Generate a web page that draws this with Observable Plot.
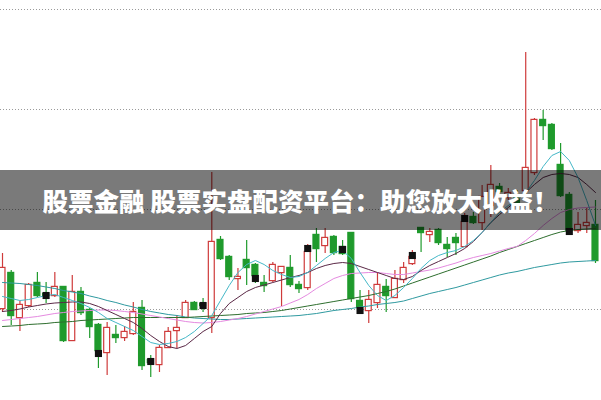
<!DOCTYPE html>
<html><head><meta charset="utf-8">
<script src="https://cdn.jsdelivr.net/npm/d3@7"></script>
<script src="https://cdn.jsdelivr.net/npm/@observablehq/plot@0.6"></script>
<style>
html,body{margin:0;padding:0;background:#fff;}
#wrap{position:relative;width:601px;height:400px;overflow:hidden;}
#banner{position:absolute;left:0;top:170px;width:601px;height:60px;background:rgba(0,0,0,0.52);color:#fff;font-weight:900;font-size:25.5px;font-family:"Noto Sans CJK SC","Noto Sans",sans-serif;text-align:center;line-height:60px;white-space:nowrap;}
</style></head><body>
<div id="wrap"><div id="chart"></div><div id="banner">股票金融 股票实盘配资平台：助您放大收益！</div></div>
<script>
const title = "股票金融 股票实盘配资平台：助您放大收益！";
const opens = [10.1,13.6,9.2,10.4,12.6,11.5,11.4,12.2,6.9,11.7, 9.9,8.4,5.7,7.4,7.2,7.6,10.1,4.9,4.5,6.2, 7.9,9.2,10.6,10.5,9.2,16.9,15.2,13.1,14.9,14.4, 12.6,12.9,13.7,14.1,12.4,12.2,17.4,16.4,17.2,16.2, 17.6,10.8,9.9,10.7,12.2,11.2,13.0,14.6,18.1,17.5, 17.9,16.4,17.1,16.3,19.2,18.7,20.4,22.2,21.2,21.2, 21.9,23.7,28.9,28.4,24.4,21.4,17.9,18.4,18.4];
const closes = [14.1,9.4,10.4,12.4,11.4,11.4,12.2,6.9,11.7,9.7, 8.3,5.9,8.1,7.2,7.7,9.7,4.4,4.7,6.1,7.7, 8.1,10.6,10.0,10.4,16.7,15.1,13.3,13.2,14.2,13.4, 12.4,14.4,14.2,12.5,12.1,15.7,16.1,17.1,15.7,15.6, 11.1,10.2,10.9,12.4,11.4,13.0,14.1,15.2,17.7,17.7, 16.7,16.1,16.7,18.7,18.7,21.2,22.4,21.8,21.6,20.7, 24.1,28.9,28.4,26.1,21.4,17.9,18.4,18.6,14.9];
const highs = [15.6,13.9,10.8,12.6,13.7,12.7,13.7,12.3,13.4,12.2, 10.1,8.6,8.7,8.4,8.3,10.7,10.9,5.4,6.4,8.2, 9.4,10.9,10.8,11.1,23.7,17.3,15.4,14.1,16.9,14.6, 13.4,14.7,14.3,15.4,12.8,16.5,18.1,18.1,17.4,16.9, 17.7,11.9,11.9,13.7,13.0,13.9,14.7,15.9,18.1,18.1, 18.1,17.2,17.6,19.6,19.7,22.4,24.4,22.6,22.1,21.9, 35.7,29.1,29.9,28.6,26.6,21.7,19.7,20.1,20.9];
const lows = [9.7,8.4,7.8,10.2,11.2,10.6,11.2,6.7,6.8,9.4, 7.1,4.1,3.4,6.6,6.8,7.4,3.9,3.2,3.7,6.1, 6.1,9.1,9.9,9.7,7.6,14.9,12.9,11.9,12.4,12.6, 11.7,12.7,10.3,12.2,11.6,11.9,14.7,15.6,15.4,15.4, 10.7,9.7,8.6,10.1,9.7,11.1,12.6,14.4,15.7,16.7, 16.4,15.2,15.4,16.3,18.5,17.9,19.2,21.4,20.9,20.4, 21.4,23.4,26.9,25.9,21.2,17.6,17.6,17.6,14.6];

const ma5 = [11.3,11.1,10.9,11.0,11.2,11.4,11.5,11.2,10.9,10.6, 10.2,9.7,9.1,8.7,8.3,7.9,7.3,6.7,6.5,6.6, 6.8,7.2,7.8,8.6,9.4,10.9,12.4,13.7,14.5,14.9, 14.5,13.9,13.5,13.2,13.3,13.7,14.4,15.1,15.7,15.9, 15.1,13.7,12.4,11.4,10.9,11.4,12.2,13.1,14.1,14.9, 15.4,15.7,15.9,16.3,16.9,17.7,18.7,19.7,20.4,20.9, 21.7,22.9,24.3,25.4,25.8,24.9,23.2,20.9,18.4];
const ma10 = [9.8,9.9,10.05,10.25,10.4,10.55,10.65,10.7,10.75,10.75, 10.6,10.3,9.9,9.5,9.1,8.7,8.1,7.4,6.8,6.3, 6.1,6.4,7.1,7.8,8.3,9.6,10.6,11.2,11.8,12.2, 12.45,12.7,12.95,13.2,13.4,13.7,14.1,14.4,14.6,14.7, 14.6,14.3,14.0,13.7,13.4,13.1,13.0,13.3,13.9,14.4, 14.8,15.2,15.6,16.1,16.8,17.7,18.7,19.5,20.2,20.9, 21.7,22.5,23.2,23.5,23.6,23.5,23.2,22.5,21.7];
const ma20 = [8.9,9.0,9.1,9.2,9.3,9.45,9.6,9.7,9.8,9.85, 9.9,9.95,9.95,9.9,9.8,9.7,9.55,9.4,9.25,9.1, 8.95,8.8,8.7,8.65,8.7,8.8,8.95,9.1,9.3,9.55, 9.8,10.05,10.3,10.65,11.0,11.5,12.1,12.6,13.1,13.4, 13.6,13.65,13.7,13.7,13.6,13.5,13.5,13.65,13.8,13.95, 14.15,14.4,14.65,14.95,15.2,15.4,15.6,15.85,16.1,16.3, 16.9,17.6,18.4,19.1,19.7,20.0,20.15,20.2,20.25];
const ma30 = [8.3,8.35,8.4,8.5,8.55,8.6,8.7,8.75,8.8,8.9, 8.95,9.0,9.05,9.1,9.15,9.2,9.2,9.2,9.2,9.2, 9.2,9.2,9.25,9.3,9.35,9.4,9.45,9.5,9.6,9.65, 9.7,9.8,9.9,10.05,10.2,10.35,10.5,10.65,10.8,10.95, 11.1,11.25,11.4,11.6,11.8,12.05,12.35,12.65,12.95,13.25, 13.55,13.85,14.15,14.45,14.75,15.05,15.35,15.7,16.0,16.3, 16.6,16.9,17.2,17.5,17.75,17.9,18.0,18.05,18.1];
const ma60 = [12.7,12.65,12.6,12.5,12.4,12.25,12.1,11.9,11.75,11.6, 11.35,11.15,10.9,10.7,10.45,10.25,10.0,9.8,9.65,9.5, 9.4,9.25,9.15,9.1,9.05,9.0,9.0,9.05,9.1,9.15, 9.2,9.25,9.3,9.35,9.4,9.5,9.6,9.75,9.9,10.0, 10.1,10.25,10.35,10.5,10.6,10.7,10.85,11.1,11.35,11.6, 11.8,12.0,12.2,12.45,12.7,12.95,13.2,13.45,13.65,13.8, 14.0,14.2,14.35,14.5,14.65,14.75,14.8,14.85,14.9];

const gridTicks = [10, 20, 30, 40];
const signalIdx = [5, 11, 17, 23, 29, 35, 39, 41, 47, 53, 65];
const signalPrice = [11.4, 5.6, 4.8, 10.4, 13.1, 16.1, 16.0, 9.9, 15.4, 19.1, 17.8];
const signalKind = ["c","p","c","c","p","c","c","p","c","c","k"];

const RED = "#cf3b3b", GREEN = "#1f9a2c";
const candles = opens.map((o, i) => ({i, o, c: closes[i], h: highs[i], l: lows[i], up: closes[i] >= opens[i]}));
const signals = signalIdx.map((i, k) => ({i, p: signalPrice[k], kind: signalKind[k]}));
const maDefs = [
  {name: "MA60", vals: ma60, color: "#2f9aa0"},
  {name: "MA30", vals: ma30, color: "#2e6e2e"},
  {name: "MA20", vals: ma20, color: "#e58ae0"},
  {name: "MA10", vals: ma10, color: "#5a2846"},
  {name: "MA5", vals: ma5, color: "#45b8c8"}
];
const lines = maDefs.flatMap(m => m.vals.map((v, i) => ({i, v, name: m.name})));
const half = 0.34;

const chart = Plot.plot({
  width: 601, height: 400,
  margin: 0,
  x: {domain: [-0.23, 68.69], axis: null},
  y: {domain: [0.9, 40.9], axis: null},
  color: {domain: maDefs.map(m => m.name), range: maDefs.map(m => m.color)},
  style: {background: "#fff"},
  marks: [
    Plot.ruleY(gridTicks, {stroke: "#9a9a9a", strokeWidth: 1, strokeDasharray: "1,2"}),
    Plot.ruleX(candles, {x: "i", y1: "l", y2: "h", stroke: d => d.up ? RED : GREEN, strokeWidth: 1.2}),
    Plot.rect(candles, {
      x1: d => d.i - half, x2: d => d.i + half,
      y1: d => Math.min(d.o, d.c), y2: d => Math.max(d.o, d.c),
      fill: d => d.up ? "#fff" : GREEN,
      stroke: d => d.up ? RED : GREEN, strokeWidth: 1.2,
      insetTop: -0.6, insetBottom: -0.6
    }),
    Plot.line(lines, {x: "i", y: "v", z: "name", stroke: "name", strokeWidth: 1, curve: "linear"}),
    Plot.dot(signals, {x: "i", y: "p", symbol: "square", r: 4, fill: "#111", stroke: "none"}),
    Plot.dot(signals.filter(d => d.kind !== "k"), {x: "i", y: "p", symbol: "plus", r: 2.6, fill: d => d.kind === "p" ? "#f08cf0" : "#55d0e0", stroke: "none"})
  ]
});
document.getElementById("chart").appendChild(chart);
</script>
</body></html>
